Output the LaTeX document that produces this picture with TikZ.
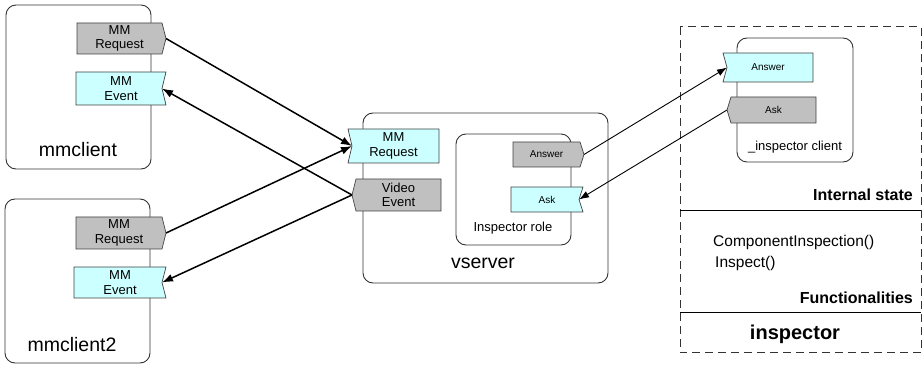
\documentclass[tikz,border=0pt]{standalone}
\usepackage{fontspec}
\setmainfont{Liberation Sans}
\usetikzlibrary{arrows.meta}
\definecolor{portgray}{HTML}{C0C0C0}
\definecolor{portcyan}{HTML}{CCFFFF}
\definecolor{edgecol}{HTML}{404040}
\tikzset{
 gport/.style={draw=edgecol, fill=portgray, line width=0.7pt},
 cport/.style={draw=edgecol, fill=portcyan, line width=0.7pt},
 comp/.style={draw=black!80, line width=0.9pt, rounded corners=10pt},
 lbl/.style={inner sep=0pt, align=center, font=\fontsize{13}{14.5}\selectfont},
 slbl/.style={inner sep=0pt, align=center, font=\fontsize{10}{12}\selectfont},
 biglbl/.style={inner sep=0pt, font=\fontsize{19.5}{22}\selectfont},
 midlbl/.style={inner sep=0pt, font=\fontsize{13}{15}\selectfont},
 infolbl/.style={inner sep=0pt, font=\fontsize{15.5}{18}\selectfont},
 boldlbl/.style={inner sep=0pt, font=\fontsize{16}{18}\selectfont\bfseries},
 conn/.style={line width=1.5pt, -{Latex[length=11pt,width=8pt]}},
 fineconn/.style={line width=0.9pt, -{Latex[length=10pt,width=7pt]}},
 dashbox/.style={draw=black!80, line width=1pt, dash pattern=on 8pt off 5pt},
}
% tip pointing right
\newcommand{\portTR}[8]{%
 \draw[#2] (#3,#4) -- (#5,#4) -- ({#5+4},{(#4+#6)/2}) -- (#5,#6) -- (#3,#6) -- cycle;
 \node[#7] (#1) at ({(#3+#5)/2},{(#4+#6)/2}) {#8};
 \coordinate (#1-p) at ({#5+4},{(#4+#6)/2});}
% notch on right
\newcommand{\portNR}[8]{%
 \draw[#2] (#3,#4) -- (#5,#4) -- ({#5-4},{(#4+#6)/2}) -- (#5,#6) -- (#3,#6) -- cycle;
 \node[#7] (#1) at ({(#3+#5)/2},{(#4+#6)/2}) {#8};
 \coordinate (#1-p) at ({#5-4},{(#4+#6)/2});}
% tip pointing left
\newcommand{\portTL}[8]{%
 \draw[#2] (#3,#4) -- (#5,#4) -- (#5,#6) -- (#3,#6) -- ({#3-4},{(#4+#6)/2}) -- cycle;
 \node[#7] (#1) at ({(#3+#5)/2},{(#4+#6)/2}) {#8};
 \coordinate (#1-p) at ({#3-4},{(#4+#6)/2});}
% notch on left
\newcommand{\portNL}[8]{%
 \draw[#2] (#3,#4) -- (#5,#4) -- (#5,#6) -- (#3,#6) -- ({#3+4},{(#4+#6)/2}) -- cycle;
 \node[#7] (#1) at ({(#3+#5)/2},{(#4+#6)/2}) {#8};
 \coordinate (#1-p) at ({#3+4},{(#4+#6)/2});}
\begin{document}
\begin{tikzpicture}[x=1pt,y=-1pt]
\useasboundingbox (0,0) rectangle (922,366);
% components
\draw[comp] (6,5) rectangle (151,169);
\node[biglbl] (mmc) at (78,150) {mmclient};
\draw[comp] (5,199) rectangle (150,363);
\node[biglbl] (mmc2) at (72,345) {mmclient2};
\draw[comp] (363,113) rectangle (608,283);
\node[biglbl] (vs) at (483,263) {vserver};
\draw[comp] (456,134) rectangle (571,245);
\node[midlbl] (role) at (513,228) {Inspector role};
% inspector
\draw[dashbox] (680,27) rectangle (921,353);
\draw[comp] (737,38) rectangle (853,162);
\node[midlbl] (icl) at (795,147) {\_inspector client};
\node[boldlbl, anchor=east] (istate) at (913,195) {Internal state};
\coordinate (l1a) at (680,211); \coordinate (l1b) at (921,211);
\draw[line width=1pt] (l1a) -- (l1b);
\node[infolbl, anchor=west] (ci) at (713,242) {ComponentInspection()};
\node[infolbl, anchor=west] (insp) at (715,263) {Inspect()};
\node[boldlbl, anchor=east] (func) at (913,298) {Functionalities};
\coordinate (l2a) at (680,313); \coordinate (l2b) at (921,313);
\draw[line width=1pt] (l2a) -- (l2b);
\node[inner sep=0pt, font=\fontsize{20}{22}\selectfont\bfseries] (inspt) at (795,334) {inspector};
% ports
\portTR{c1req}{gport}{77}{23}{162}{54}{lbl}{MM\\Request}
\portNR{c1ev}{cport}{76}{72}{166}{105}{lbl}{MM\\Event}
\portTR{c2req}{gport}{76}{217}{162}{249}{lbl}{MM\\Request}
\portNR{c2ev}{cport}{74}{267}{166}{298}{lbl}{MM\\Event}
\portNL{vreq}{cport}{348}{129}{439}{163}{lbl}{MM\\Request}
\portTL{vev}{gport}{356}{179}{441}{211}{lbl}{Video\\Event}
\portTR{vans}{gport}{513}{142}{580}{167}{slbl}{Answer}
\portNR{vask}{cport}{511}{187}{583}{212}{slbl}{Ask}
\portNL{ians}{cport}{723}{53}{813}{82}{slbl}{Answer}
\portTL{iask}{gport}{731}{97}{816}{123}{slbl}{Ask}
% connectors
\draw[conn] (c1req-p) -- (vreq-p);
\draw[conn] (c2req-p) -- (vreq-p);
\draw[conn] (vev-p) -- (c1ev-p);
\draw[conn] (vev-p) -- (c2ev-p);
\draw[fineconn] (vans-p) -- (ians-p);
\draw[fineconn] (iask-p) -- (vask-p);
\end{tikzpicture}
\end{document}
